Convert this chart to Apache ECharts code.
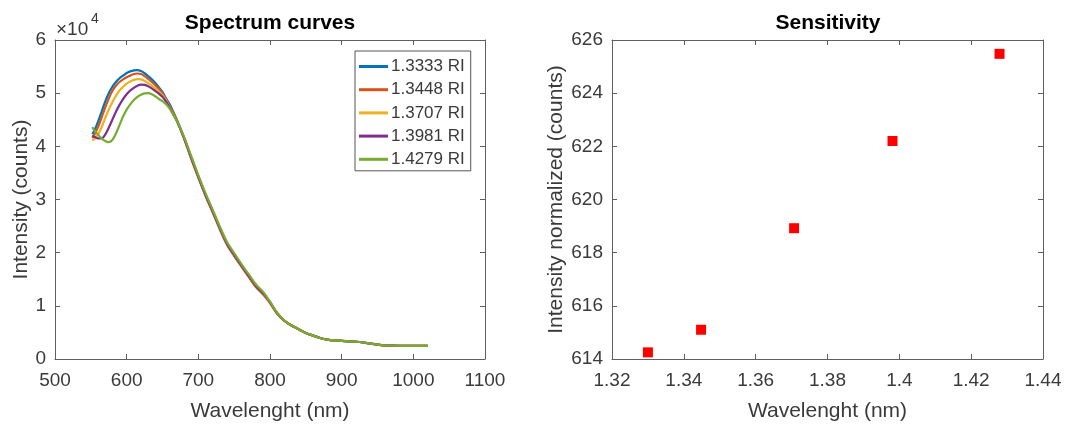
<!DOCTYPE html>
<html>
<head>
<meta charset="utf-8">
<script src="https://cdn.jsdelivr.net/npm/echarts@6/dist/echarts.min.js"></script>
<style>
  html, body { margin: 0; padding: 0; background: #ffffff; }
  #chart { width: 1066px; height: 424px; }
</style>
</head>
<body>
<div id="chart"></div>
<script>
// Spectrum wavelengths (nm)
const wavelength = [552, 555, 560, 565, 570, 575, 580, 585, 590, 595, 600, 605, 610, 615, 620, 625, 630, 635, 640, 645, 650, 655, 660, 665, 670,
  680, 690, 700, 710, 720, 730, 740, 750, 760, 770, 780, 790, 795, 800,
  810, 820, 830, 840, 850, 860, 870, 880, 890, 900, 910, 920, 930, 940, 950, 960, 970, 980, 990, 1000, 1010, 1020];

// Intensity (counts) for each refractive index
const ri13333 = [42300, 43000, 44600, 46500, 48400, 50000, 51200, 52100, 52800, 53300, 53800, 54100, 54300, 54350, 54150, 53750, 53200, 52600, 51900, 51100, 50200, 49000, 47900, 46500, 45000,
  41600, 37800, 34200, 30800, 27700, 24500, 21600, 19500, 17500, 15600, 13700, 12300, 11500, 10600,
  8600, 7200, 6300, 5600, 4900, 4400, 3950, 3650, 3500, 3420, 3330, 3240, 3100, 2900, 2720, 2580, 2500, 2470, 2460, 2460, 2470, 2480];
const ri13448 = [41600, 42200, 43600, 45400, 47300, 49000, 50400, 51400, 52100, 52600, 53000, 53300, 53600, 53700, 53600, 53200, 52700, 52100, 51500, 50800, 49900, 48800, 47600, 46300, 44900,
  41500, 37700, 34100, 30700, 27600, 24400, 21500, 19400, 17400, 15500, 13600, 12200, 11400, 10500,
  8500, 7200, 6300, 5600, 4900, 4400, 3950, 3650, 3500, 3420, 3330, 3240, 3100, 2900, 2720, 2580, 2500, 2470, 2460, 2460, 2470, 2480];
const ri13707 = [41100, 41400, 42200, 43600, 45300, 46900, 48300, 49500, 50500, 51200, 51800, 52200, 52500, 52650, 52600, 52300, 51900, 51400, 50900, 50300, 49600, 48600, 47400, 46100, 44800,
  41600, 37900, 34300, 30900, 27800, 24600, 21700, 19600, 17600, 15700, 13800, 12400, 11600, 10700,
  8600, 7200, 6300, 5600, 4900, 4400, 3950, 3650, 3500, 3420, 3330, 3240, 3100, 2900, 2720, 2580, 2500, 2470, 2460, 2460, 2470, 2480];
const ri13981 = [42000, 41800, 41500, 41500, 42200, 43500, 45000, 46500, 47800, 48900, 49800, 50500, 51000, 51400, 51600, 51550, 51300, 50900, 50400, 49900, 49300, 48400, 47300, 46000, 44800,
  41600, 37900, 34300, 30900, 27800, 24600, 21700, 19600, 17600, 15700, 13800, 12400, 11600, 10700,
  8600, 7200, 6300, 5600, 4900, 4400, 3950, 3650, 3500, 3420, 3330, 3240, 3100, 2900, 2720, 2580, 2500, 2470, 2460, 2460, 2470, 2480];
const ri14279 = [43600, 43000, 42200, 41500, 41000, 40800, 41200, 42400, 44000, 45600, 46900, 47900, 48700, 49300, 49700, 49950, 50000, 49800, 49400, 48900, 48500, 47900, 47100, 46000, 44800,
  41800, 38200, 34600, 31200, 28100, 24900, 22000, 19900, 17900, 16000, 14100, 12700, 11800, 10800,
  8700, 7250, 6300, 5600, 4900, 4400, 3950, 3650, 3500, 3420, 3330, 3240, 3100, 2900, 2720, 2580, 2500, 2470, 2460, 2460, 2470, 2480];

const riLabels = ['1.3333 RI', '1.3448 RI', '1.3707 RI', '1.3981 RI', '1.4279 RI'];
const riCurves = [ri13333, ri13448, ri13707, ri13981, ri14279];
const lineColors = ['#0072BD', '#D95319', '#EDB120', '#7E2F8E', '#77AC30'];

// Sensitivity: refractive index vs normalized intensity
const sensIndex = [1.33, 1.3448, 1.3707, 1.3981, 1.4279];
const sensIntensity = [614.25, 615.1, 618.92, 622.2, 625.48];

const FONT = '"Liberation Sans", Arial, Helvetica, sans-serif';
const AXIS_COLOR = '#5f5f5f';
const TEXT_COLOR = '#3a3a3a';

function frameAxis(opts) {
  return Object.assign({
    type: 'value',
    axisLine: { show: true, onZero: false, lineStyle: { color: AXIS_COLOR, width: 1 } },
    axisTick: { show: true, inside: true, length: 5, lineStyle: { color: AXIS_COLOR } },
    axisLabel: { show: false },
    splitLine: { show: false }
  }, opts);
}

function mainAxis(opts, labelOpts) {
  return frameAxis(Object.assign({
    axisLabel: Object.assign({ show: true, color: TEXT_COLOR, fontFamily: FONT, fontSize: 19 }, labelOpts),
    nameLocation: 'middle',
    nameTextStyle: { color: TEXT_COLOR, fontFamily: FONT, fontSize: 21 }
  }, opts));
}

// plain number labels, no thousands separators
function plain(v) { return String(Math.round(v * 1000) / 1000); }

const chart = echarts.init(document.getElementById('chart'), null, { renderer: 'canvas' });

const option = {
  backgroundColor: '#ffffff',
  animation: false,
  title: [
    { text: 'Spectrum curves', left: 270, top: 13, textAlign: 'center', padding: 0,
      textStyle: { fontFamily: FONT, fontSize: 21, fontWeight: 'bold', color: '#000' } },
    { text: 'Sensitivity', left: 828, top: 13, textAlign: 'center', padding: 0,
      textStyle: { fontFamily: FONT, fontSize: 21, fontWeight: 'bold', color: '#000' } }
  ],
  grid: [
    { left: 55, top: 40, width: 430, height: 319, outerBoundsMode: 'none' },
    { left: 612, top: 40, width: 431, height: 319, outerBoundsMode: 'none' }
  ],
  xAxis: [
    mainAxis({ gridIndex: 0, position: 'bottom', min: 500, max: 1100, interval: 100,
      name: 'Wavelenght (nm)', nameGap: 42 }, { margin: 12, formatter: plain }),
    frameAxis({ gridIndex: 0, position: 'top', min: 500, max: 1100, interval: 100 }),
    mainAxis({ gridIndex: 1, position: 'bottom', min: 1.32, max: 1.44, interval: 0.02,
      name: 'Wavelenght (nm)', nameGap: 42 }, { margin: 12, formatter: plain }),
    frameAxis({ gridIndex: 1, position: 'top', min: 1.32, max: 1.44, interval: 0.02 })
  ],
  yAxis: [
    mainAxis({ gridIndex: 0, position: 'left', min: 0, max: 60000, interval: 10000,
      name: 'Intensity (counts)', nameGap: 23 },
      { margin: 9, formatter: function (v) { return plain(v / 10000); } }),
    frameAxis({ gridIndex: 0, position: 'right', min: 0, max: 60000, interval: 10000 }),
    mainAxis({ gridIndex: 1, position: 'left', min: 614, max: 626, interval: 2,
      name: 'Intensity normalized (counts)', nameGap: 45 }, { margin: 9, formatter: plain }),
    frameAxis({ gridIndex: 1, position: 'right', min: 614, max: 626, interval: 2 })
  ],
  legend: {
    orient: 'vertical',
    left: 355,
    top: 51,
    padding: [7, 6, 3, 4],
    borderColor: '#555',
    borderWidth: 1,
    backgroundColor: '#ffffff',
    itemWidth: 29,
    itemHeight: 3,
    itemGap: 6.2,
    icon: 'rect',
    textStyle: { fontFamily: FONT, fontSize: 17, lineHeight: 17, color: TEXT_COLOR, padding: [0, 0, 0, -2] },
    data: riLabels
  },
  graphic: [
    { type: 'text', left: 56, top: 20, style: { text: '×10', font: '19px ' + FONT, fill: TEXT_COLOR } },
    { type: 'text', left: 91, top: 12, style: { text: '4', font: '14px ' + FONT, fill: TEXT_COLOR } }
  ],
  series: riLabels.map(function (name, i) {
    return {
      name: name,
      type: 'line',
      xAxisIndex: 0,
      yAxisIndex: 0,
      data: wavelength.map(function (w, k) { return [w, riCurves[i][k]]; }),
      showSymbol: false,
      symbol: 'none',
      smooth: 0.3,
      color: lineColors[i],
      lineStyle: { width: 2.2, color: lineColors[i] }
    };
  }).concat([{
    name: 'Sensitivity',
    type: 'scatter',
    xAxisIndex: 2,
    yAxisIndex: 2,
    symbol: 'rect',
    symbolSize: 10,
    itemStyle: { color: '#ff0000', opacity: 1 },
    data: sensIndex.map(function (x, k) { return [x, sensIntensity[k]]; })
  }])
};

chart.setOption(option);
</script>
</body>
</html>
